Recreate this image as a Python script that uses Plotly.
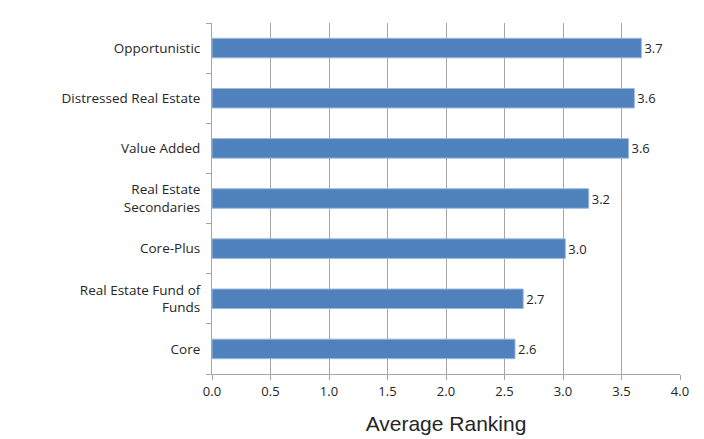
import plotly.graph_objects as go

categories = ["Core", "Real Estate Fund of<br>Funds", "Core-Plus", "Real Estate<br>Secondaries",
              "Value Added", "Distressed Real Estate", "Opportunistic"]
values = [2.59, 2.66, 3.02, 3.22, 3.56, 3.61, 3.67]
x_ticks = [0.0, 0.5, 1.0, 1.5, 2.0, 2.5, 3.0, 3.5, 4.0]

font_family = "Open Sans, Lato, sans-serif"

fig = go.Figure(go.Bar(
    y=categories, x=values, orientation="h",
    marker=dict(color="#4F81BD", line=dict(color="#9DB9DE", width=1)),
    width=0.39,
    texttemplate="%{x:.1f}", textposition="outside",
    textfont=dict(family=font_family, size=13, color="#262626"),
    cliponaxis=False,
))

fig.update_layout(
    width=704, height=439,
    margin=dict(l=204, r=32, t=15, b=73),
    paper_bgcolor="white", plot_bgcolor="white",
    font=dict(family=font_family, size=13.5, color="#262626"),
    showlegend=False,
)
fig.update_xaxes(
    range=[0, 4.0], tickvals=x_ticks, ticktext=[f"{v:.1f}" for v in x_ticks],
    tickfont=dict(size=13),
    showgrid=True, gridcolor="#A6A6A6", gridwidth=1,
    showline=True, linecolor="#A6A6A6", linewidth=1,
    ticks="outside", ticklen=5, tickcolor="#A6A6A6",
    zeroline=False, automargin=False,
    title=dict(text="Average Ranking", font=dict(family="Liberation Sans, Arial, sans-serif", size=21, color="#262626"), standoff=17),
)
fig.update_yaxes(
    showline=True, linecolor="#A6A6A6", linewidth=1,
    ticks="outside", ticklen=5, tickcolor="#A6A6A6",
    tickson="boundaries", showgrid=False, automargin=False,
    ticklabelstandoff=8,
)

fig.write_html("out.html")
